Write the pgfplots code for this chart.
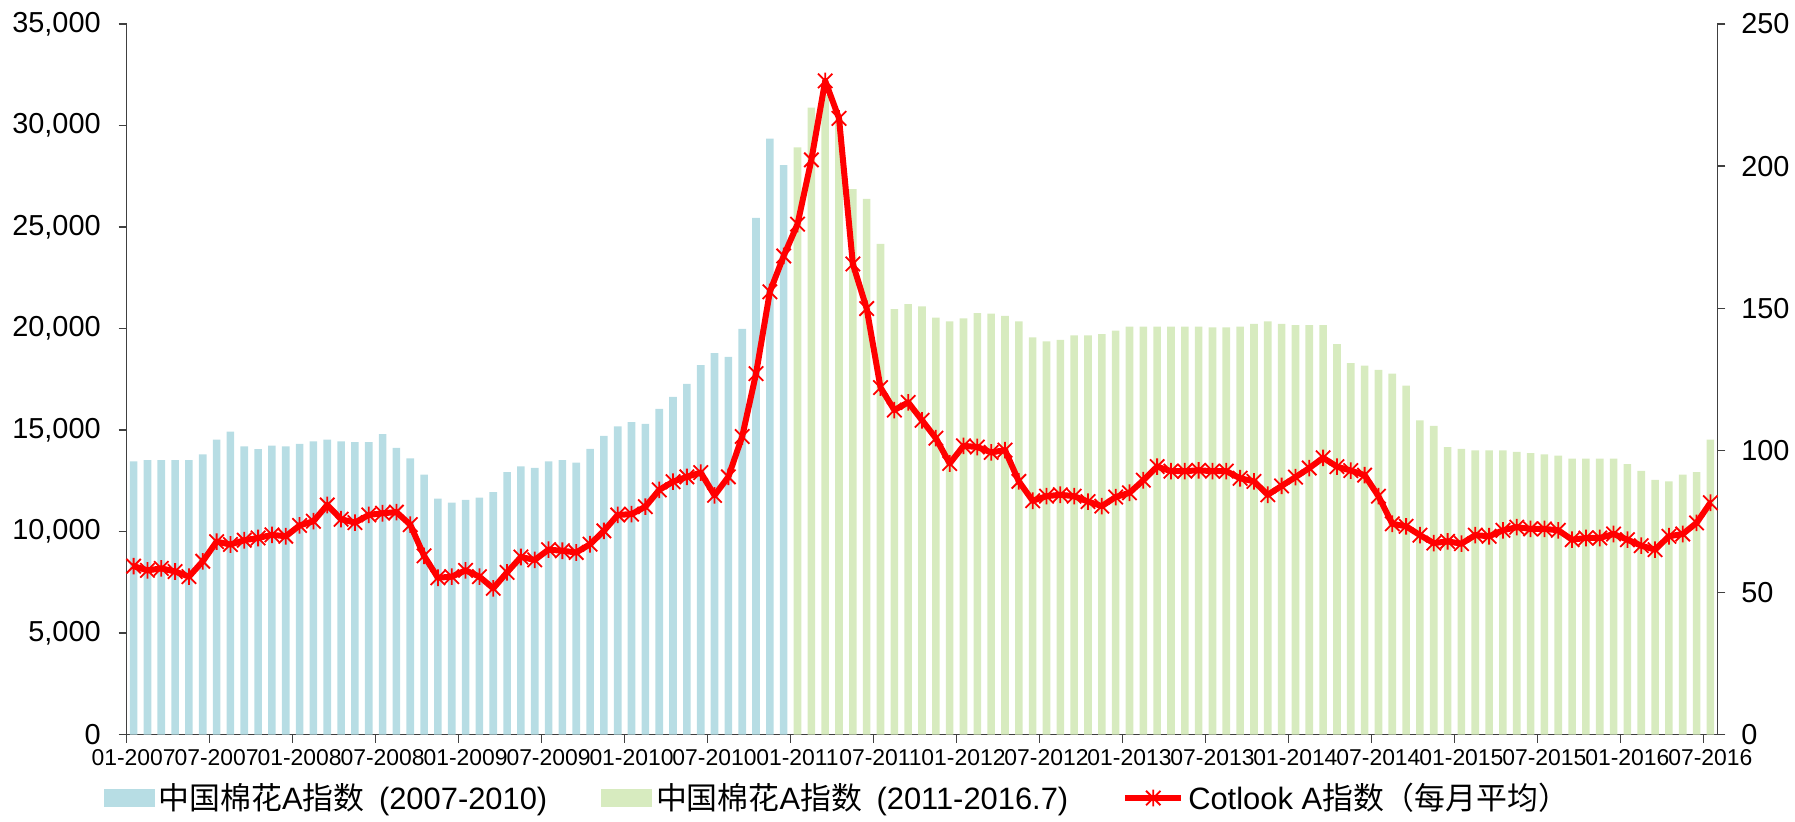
\documentclass[border=0pt]{standalone}
\usepackage{pgfplots}
\pgfplotsset{compat=1.18}
\usepackage{fontspec}
\setmainfont{Liberation Sans}
\newfontfamily\cjk{Noto Sans CJK SC}
\definecolor{barblue}{RGB}{183,221,228}
\definecolor{bargreen}{RGB}{215,235,191}
\definecolor{axgray}{RGB}{64,64,64}
\pgfdeclareplotmark{xstar}{%
  \pgfpathmoveto{\pgfqpoint{-\pgfplotmarksize}{-\pgfplotmarksize}}%
  \pgfpathlineto{\pgfqpoint{\pgfplotmarksize}{\pgfplotmarksize}}%
  \pgfpathmoveto{\pgfqpoint{-\pgfplotmarksize}{\pgfplotmarksize}}%
  \pgfpathlineto{\pgfqpoint{\pgfplotmarksize}{-\pgfplotmarksize}}%
  \pgfpathmoveto{\pgfqpoint{0pt}{-1.15\pgfplotmarksize}}%
  \pgfpathlineto{\pgfqpoint{0pt}{1.15\pgfplotmarksize}}%
  \pgfusepathqstroke}
\pgfplotsset{
  redlegend/.style={legend image code/.code={\draw[mark repeat=2,mark phase=2,##1] plot coordinates {(0bp,0bp) (14bp,0bp) (28bp,0bp)};}},
  bluelegend/.style={legend image code/.code={\fill[barblue] (0bp,-4.25bp) rectangle (25bp,4.25bp);}},
  greenlegend/.style={legend image code/.code={\fill[bargreen] (0bp,-4.25bp) rectangle (25bp,4.25bp);}},
}
\begin{document}
\begin{tikzpicture}
\path[use as bounding box] (0,0) rectangle (897.5bp,411bp);
\pgfplotsset{
  base/.style={
    at={(63.35bp,43.65bp)}, anchor=south west, scale only axis,
    width=795.3bp, height=355.35bp,
    xmin=-0.5, xmax=114.5, ymin=0,
    /pgf/number format/assume math mode=true,
    tick align=outside, major tick length=4bp,
    axis line style={axgray, line width=0.7bp},
    every tick/.style={axgray, line width=0.7bp},
    yticklabel style={font=\fontsize{14.5}{17}\selectfont},
  }
}
\begin{axis}[base, ymax=35000,
  axis y line*=left, axis x line*=bottom,
  ytick={0,5000,10000,15000,20000,25000,30000,35000},
  scaled y ticks=false,
  yticklabel style={/pgf/number format/fixed, /pgf/number format/1000 sep={,}, xshift=-5.5bp},
  xtick={-0.5,5.5,11.5,17.5,23.5,29.5,35.5,41.5,47.5,53.5,59.5,65.5,71.5,77.5,83.5,89.5,95.5,101.5,107.5,113.5},
  xticklabels={01-2007,07-2007,01-2008,07-2008,01-2009,07-2009,01-2010,07-2010,01-2011,07-2011,01-2012,07-2012,01-2013,07-2013,01-2014,07-2014,01-2015,07-2015,01-2016,07-2016},
  xticklabel style={font=\fontsize{11.5}{13}\selectfont, xshift=3.46bp, inner xsep=0pt},
]
\addplot[ybar, bar width=0.55, bar shift=0pt, fill=barblue, draw=none] table {
0 13460
1 13520
2 13520
3 13520
4 13520
5 13810
6 14530
7 14920
8 14200
9 14060
10 14240
11 14200
12 14320
13 14450
14 14530
15 14450
16 14410
17 14410
18 14800
19 14120
20 13610
21 12810
22 11620
23 11430
24 11560
25 11680
26 11950
27 12930
28 13220
29 13140
30 13460
31 13520
32 13400
33 14080
34 14710
35 15180
36 15390
37 15310
38 16050
39 16640
40 17280
41 18200
42 18790
43 18610
44 19980
45 25450
46 29350
47 28050
};
\addplot[ybar, bar width=0.55, bar shift=0pt, fill=bargreen, draw=none] table {
48 28920
49 30880
50 31500
51 30300
52 26870
53 26390
54 24170
55 20960
56 21200
57 21090
58 20540
59 20360
60 20500
61 20760
62 20740
63 20630
64 20360
65 19570
66 19370
67 19440
68 19660
69 19660
70 19730
71 19900
72 20100
73 20100
74 20100
75 20100
76 20100
77 20100
78 20060
79 20060
80 20100
81 20230
82 20360
83 20230
84 20170
85 20170
86 20170
87 19240
88 18300
89 18170
90 17970
91 17780
92 17190
93 15480
94 15210
95 14160
96 14070
97 14000
98 14000
99 14000
100 13930
101 13870
102 13800
103 13740
104 13600
105 13600
106 13600
107 13600
108 13320
109 12990
110 12550
111 12480
112 12810
113 12930
114 14530
};
\end{axis}
\begin{axis}[base, ymax=250,
  axis y line*=right, axis x line=none,
  ytick={0,50,100,150,200,250},
  yticklabel style={xshift=4.5bp},
  legend columns=3,
  legend cell align=left,
  legend style={draw=none, fill=none, at={(0.4475,-0.0891)}, anchor=center,
    font=\fontsize{15.5}{18}\selectfont,
    /tikz/every even column/.append style={column sep=25bp}},
]
\addlegendimage{bluelegend}
\addlegendentry{{\cjk 中国棉花}A{\cjk 指数}\hspace{3bp} (2007-2010)}
\addlegendimage{greenlegend}
\addlegendentry{{\cjk 中国棉花}A{\cjk 指数}\hspace{3bp} (2011-2016.7)}
\addplot[red, line width=3bp, line join=round, mark=xstar, mark size=3.6bp,
  mark options={line width=0.9bp, solid}, redlegend] table {
0 59.3
1 57.8
2 58.5
3 57.4
4 55.6
5 61.0
6 67.9
7 66.9
8 68.4
9 69.2
10 70.3
11 69.8
12 73.6
13 75.1
14 80.8
15 75.8
16 74.6
17 77.3
18 77.9
19 78.3
20 73.9
21 62.9
22 55.2
23 55.6
24 57.8
25 55.6
26 51.5
27 57.1
28 62.5
29 61.5
30 65.1
31 64.7
32 64.1
33 67.0
34 71.7
35 77.3
36 77.6
37 80.2
38 86.1
39 89.0
40 90.7
41 92.2
42 84.2
43 90.7
44 104.9
45 127.0
46 155.8
47 168.4
48 179.6
49 202.2
50 230.0
51 216.8
52 165.6
53 149.9
54 122.1
55 114.2
56 116.9
57 110.6
58 104.3
59 95.4
60 101.6
61 101.2
62 99.3
63 100.1
64 89.1
65 82.3
66 83.9
67 84.4
68 83.9
69 82.0
70 80.4
71 83.6
72 85.1
73 89.5
74 94.3
75 92.7
76 92.7
77 93.0
78 92.7
79 92.7
80 90.2
81 89.1
82 84.4
83 87.5
84 90.6
85 93.8
86 97.4
87 94.3
88 92.9
89 91.3
90 83.9
91 74.2
92 73.3
93 70.2
94 67.4
95 68.0
96 67.2
97 70.2
98 69.8
99 71.9
100 73.0
101 72.4
102 72.4
103 71.9
104 68.6
105 69.2
106 69.2
107 70.6
108 68.6
109 66.5
110 65.1
111 69.8
112 70.6
113 74.5
114 81.6
};
\addlegendentry{Cotlook A{\cjk 指数（每月平均）}}
\end{axis}
\end{tikzpicture}
\end{document}
